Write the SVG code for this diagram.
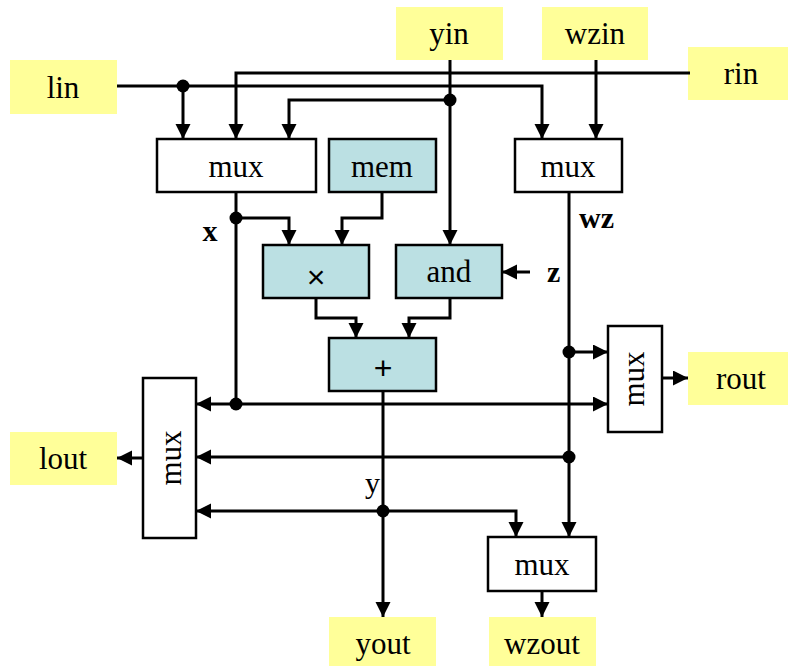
<svg xmlns="http://www.w3.org/2000/svg" width="788" height="666" viewBox="0 0 788 666">
  <style>
    .port { fill: #FFFF99; stroke: none; }
    .blk { fill: #FFFFFF; stroke: #000; stroke-width: 2.5; }
    .op { fill: #BBE0E3; stroke: #000; stroke-width: 2.5; }
    text { font-family: "Liberation Serif", "Times New Roman", serif; font-size: 31px; fill: #000; }
    .c { text-anchor: middle; }
    .sym { font-family: "Liberation Sans", Arial, sans-serif; font-size: 32px; }
    .lbl { font-size: 30px; font-weight: bold; }
    .lbn { font-size: 30px; }
    .wire { fill: none; stroke: #000; stroke-width: 3; }
    .arr { marker-end: url(#head); }
  </style>
  <defs>
    <marker id="head" markerUnits="userSpaceOnUse" markerWidth="16" markerHeight="16" refX="15" refY="7.5" orient="auto">
      <path d="M0,0 L15,7.5 L0,15 Z" fill="#000"/>
    </marker>
  </defs>

  <!-- I/O ports -->
  <g id="lin"><rect class="port" x="10" y="60" width="107" height="54"/><text class="c" x="63" y="98">lin</text></g>
  <g id="yin"><rect class="port" x="396" y="7" width="107" height="53"/><text class="c" x="449" y="44">yin</text></g>
  <g id="wzin"><rect class="port" x="542" y="7" width="106" height="53"/><text class="c" x="595" y="44">wzin</text></g>
  <g id="rin"><rect class="port" x="688" y="47" width="100" height="53"/><text class="c" x="741" y="84">rin</text></g>
  <g id="rout"><rect class="port" x="688" y="352" width="100" height="53"/><text class="c" x="741" y="389">rout</text></g>
  <g id="lout"><rect class="port" x="10" y="432" width="107" height="53"/><text class="c" x="63" y="469">lout</text></g>
  <g id="yout"><rect class="port" x="329" y="617" width="107" height="49"/><text class="c" x="383" y="654">yout</text></g>
  <g id="wzout"><rect class="port" x="489" y="617" width="107" height="49"/><text class="c" x="542" y="654">wzout</text></g>

  <!-- functional blocks -->
  <g id="mux-x"><rect class="blk" x="157" y="139" width="159" height="53"/><text class="c" x="236" y="177">mux</text></g>
  <g id="mem"><rect class="op" x="329" y="139" width="107" height="53"/><text class="c" x="382" y="177">mem</text></g>
  <g id="mux-wz"><rect class="blk" x="515" y="139" width="107" height="53"/><text class="c" x="568" y="177">mux</text></g>
  <g id="mul"><rect class="op" x="263" y="245" width="106" height="53"/><text class="c sym" x="316" y="288">×</text></g>
  <g id="and"><rect class="op" x="396" y="245" width="106" height="53"/><text class="c" x="449" y="282">and</text></g>
  <g id="add"><rect class="op" x="329" y="338" width="107" height="53"/><text class="c sym" x="383" y="379">+</text></g>
  <g id="mux-r"><rect class="blk" x="608" y="326" width="54" height="106"/><text class="c" transform="translate(635,379) rotate(-90)" x="0" y="9">mux</text></g>
  <g id="mux-l"><rect class="blk" x="143" y="378" width="53" height="160"/><text class="c" transform="translate(169.5,458) rotate(-90)" x="0" y="11">mux</text></g>
  <g id="mux-wzout"><rect class="blk" x="488" y="537" width="108" height="54"/><text class="c" x="542" y="575">mux</text></g>

  <!-- signal labels -->
  <g id="labels">
    <text class="c lbl" x="210" y="241">x</text>
    <text class="lbl" x="579" y="228">wz</text>
    <text class="lbl" x="547" y="282">z</text>
    <text class="lbn" x="365" y="493">y</text>
  </g>

  <!-- connectors -->
  <g id="connectors">
    <path class="wire arr" d="M117,86 H542 V139"/>
    <path class="wire arr" d="M183,86 V139"/>
    <path class="wire arr" d="M690,73 H236 V139"/>
    <path class="wire arr" d="M450,60 V245"/>
    <path class="wire arr" d="M450,100 H289 V139"/>
    <path class="wire arr" d="M596,60 V139"/>
    <path class="wire" d="M236,192 V404"/>
    <path class="wire arr" d="M236,218 H289 V245"/>
    <path class="wire arr" d="M382,192 V218 H342 V245"/>
    <path class="wire arr" d="M316,298 V318 H356 V338"/>
    <path class="wire arr" d="M450,298 V318 H409 V338"/>
    <path class="wire arr" d="M530,272 H502"/>
    <path class="wire arr" d="M383,391 V617"/>
    <path class="wire arr" d="M236,404 H196"/>
    <path class="wire arr" d="M236,404 H608"/>
    <path class="wire arr" d="M569,192 V537"/>
    <path class="wire arr" d="M569,352 H608"/>
    <path class="wire arr" d="M569,457 H196"/>
    <path class="wire arr" d="M383,511 H196"/>
    <path class="wire arr" d="M383,511 H516 V537"/>
    <path class="wire arr" d="M662,378 H688"/>
    <path class="wire arr" d="M143,458 H117"/>
    <path class="wire arr" d="M542,591 V617"/>
    <circle cx="183" cy="86" r="6.5"/>
    <circle cx="450" cy="100" r="6.5"/>
    <circle cx="236" cy="218" r="6.5"/>
    <circle cx="236" cy="404" r="6.5"/>
    <circle cx="569" cy="352" r="6.5"/>
    <circle cx="569" cy="457" r="6.5"/>
    <circle cx="383" cy="511" r="6.5"/>
  </g>
</svg>
